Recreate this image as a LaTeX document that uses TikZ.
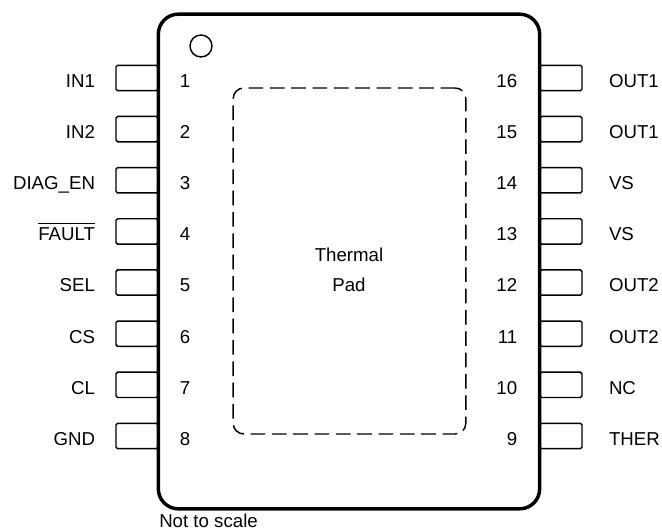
\documentclass[tikz,border=0pt]{standalone}
\usepackage{fontspec}
\setmainfont{Liberation Sans}
\usetikzlibrary{positioning}

\begin{document}
\begin{tikzpicture}[
    x=0.75pt, y=-0.75pt,
    font=\fontsize{14}{16}\selectfont,
    pinbox/.style={rectangle, draw, line width=1.1pt, rounded corners=1.2pt, minimum width=31.5pt, minimum height=19pt, inner sep=0pt, fill=white},
    pinname/.style={inner sep=0pt, text height=10pt, text depth=0pt, yshift=-2pt},
    chip/.style={rectangle, draw, line width=2.6pt, rounded corners=15pt, minimum width=286pt, minimum height=371pt},
    pad/.style={rectangle, draw, line width=1.1pt, dash pattern=on 11pt off 5pt, rounded corners=8pt, minimum width=174.5pt, minimum height=259.5pt}
]
    \useasboundingbox (0,0) rectangle (662,531);

    % Pins
    \foreach \n/\lab [count=\i from 0] in {1/IN1,2/IN2,3/DIAG\_EN,4/$\overline{\mbox{FAULT}\rule{0pt}{11.5pt}}$,5/SEL,6/CS,7/CL,8/GND} {
        \node[pinbox] (pin\n) at (137,78+51.14*\i) {};
        \node[pinname, anchor=center] (num\n) at (185,78+51.14*\i) {\n};
        \node[pinname, left=15pt of pin\n] (name\n) {\lab};
    }
    \foreach \n/\lab [count=\i from 0] in {16/OUT1,15/OUT1,14/VS,13/VS,12/OUT2,11/OUT2,10/NC,9/THER} {
        \node[pinbox] (pin\n) at (561,78+51.14*\i) {};
        \node[pinname, anchor=east] (num\n) at (517.5,78+51.14*\i) {\n};
        \node[pinname, right=19.5pt of pin\n] (name\n) {\lab};
    }

    % Package
    \node[chip] (body) at (349,261.5) {};
    \node[draw, circle, line width=1.1pt, minimum size=16.5pt, inner sep=0pt] (dot) at (201,46) {};
    \node[pad] (thermal) at (349.5,261) {};

    % Labels
    \node[inner sep=0pt] (padname1) at (349,255) {Thermal};
    \node[inner sep=0pt] (padname2) at (349,285) {Pad};
    \node[inner sep=0pt, anchor=west] (note) at (159,521) {Not to scale};
\end{tikzpicture}
\end{document}
